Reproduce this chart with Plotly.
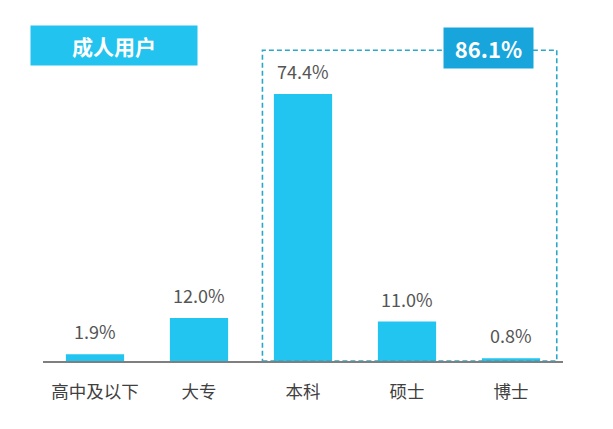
import plotly.graph_objects as go

categories = ['高中及以下', '大专', '本科', '硕士', '博士']
shares = [1.9, 12.0, 74.4, 11.0, 0.8]
share_labels = ['1.9%', '12.0%', '74.4%', '11.0%', '0.8%']
group_total = '86.1%'
title_text = '成人用户'

bar_color = '#21C5F0'
font_family = 'Noto Sans CJK SC, Microsoft YaHei, sans-serif'

# page body adds 8px at top/left, so the figure is drawn 8px smaller
W, H = 605, 421
L, R, T, B = 35, 50, 30, 68
plot_w = W - L - R
plot_h = H - T - B

fig = go.Figure(go.Bar(
    x=categories,
    y=shares,
    marker=dict(color=bar_color, line=dict(width=0)),
    hoverinfo='x+y',
))

# value labels above bars
for cat, val, lab in zip(categories, shares, share_labels):
    fig.add_annotation(
        x=cat, y=val, xref='x', yref='y',
        text=lab, showarrow=False,
        yanchor='bottom', yshift=8,
        font=dict(size=18, color='#555555', family=font_family),
    )

# dashed box around 本科 / 硕士 / 博士
fig.add_shape(
    type='rect', xref='x', yref='y',
    x0=1.61, x1=4.44, y0=0, y1=86.6,
    line=dict(color='#2BA8C8', width=1.6, dash='5px,3px'),
    fillcolor='rgba(0,0,0,0)',
)

fig.add_annotation(
    x=3.78, y=86.6, xref='x', yref='y',
    text='<b>' + group_total + '</b>', showarrow=False,
    xanchor='center', yanchor='middle',
    font=dict(size=22, color='white', family=font_family),
    bgcolor='#17A5DC', width=87, height=38,
    yshift=2,
)

# title box
fig.add_annotation(
    x=(106 - L) / plot_w, y=(H - B - 37) / plot_h,
    xref='paper', yref='paper',
    xanchor='center', yanchor='middle',
    text='<b>' + title_text + '</b>', showarrow=False,
    font=dict(size=21, color='white', family=font_family),
    bgcolor='#22C3EE', width=164, height=37,
)

fig.update_layout(
    width=W, height=H,
    margin=dict(l=L, r=R, t=T, b=B),
    paper_bgcolor='white', plot_bgcolor='white',
    font=dict(family=font_family),
    bargap=0.44,
    showlegend=False,
    xaxis=dict(
        showline=True, linecolor='#7F7F7F', linewidth=2,
        ticks='outside', ticklen=14, tickcolor='rgba(0,0,0,0)',
        tickfont=dict(size=17.5, color='#404040'),
        showgrid=False, zeroline=False,
    ),
    yaxis=dict(
        range=[0, 90], visible=False, showgrid=False, zeroline=False,
    ),
)

fig.write_html('out.html')
